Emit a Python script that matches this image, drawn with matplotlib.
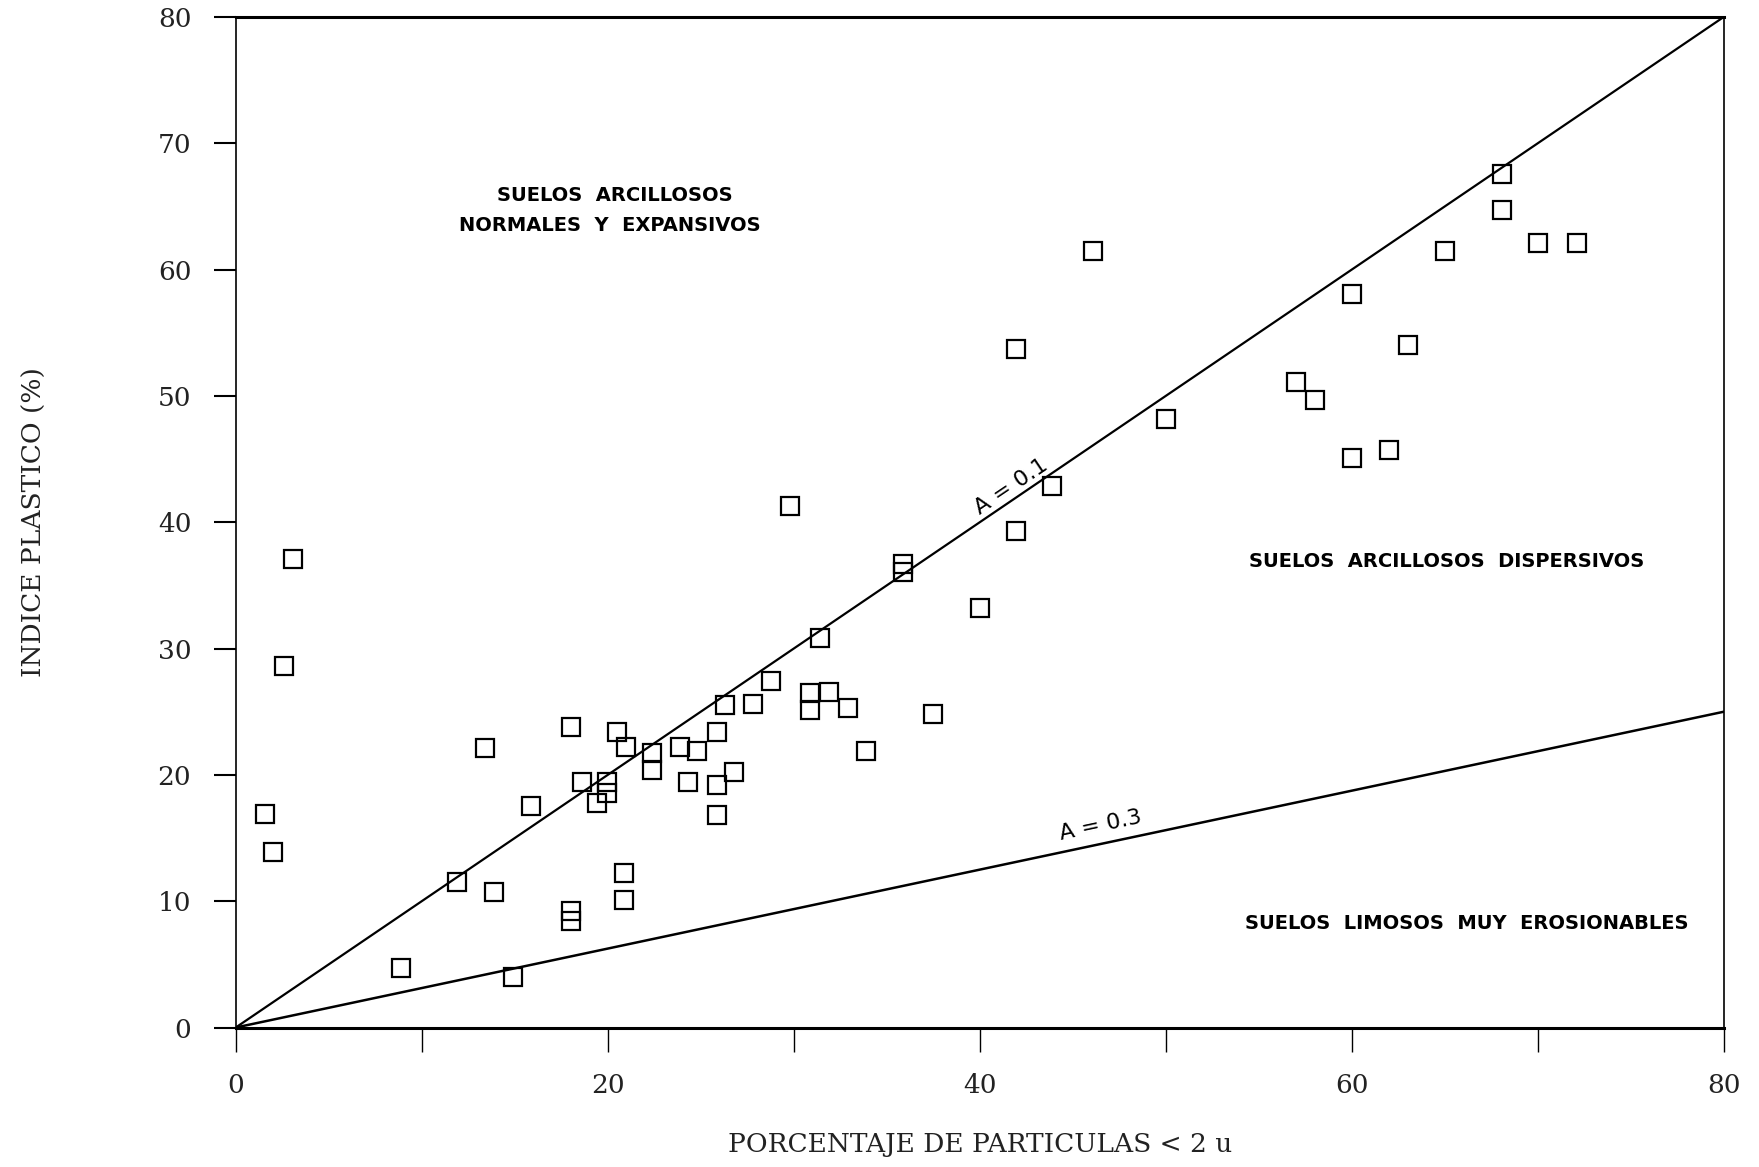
import numpy as np
import matplotlib.pyplot as plt

# data: % particles < 2u vs plasticity index
pct_arcilla = [1.6, 2.0, 2.6, 3.1, 8.9, 11.9, 13.4, 13.9, 14.9, 15.9,
               18.0, 18.0, 18.0, 18.6, 19.4, 19.95, 19.95, 20.5, 21.0, 20.9,
               20.9, 22.4, 22.4, 23.9, 24.3, 24.8, 25.9, 25.9, 25.9, 26.3,
               26.8, 27.8, 28.8, 29.8, 30.9, 30.9, 31.4, 31.9, 32.9, 33.9,
               35.9, 35.9, 37.5, 40.0, 41.95, 41.95, 43.9, 46.1, 50.0, 57.0,
               58.0, 60.0, 60.0, 62.0, 63.0, 65.0, 68.1, 68.1, 70.0, 72.1]
ind_plastico = [16.9, 13.9, 28.6, 37.1, 4.7, 11.5, 22.1, 10.7, 4.0, 17.5,
                23.8, 9.2, 8.4, 19.4, 17.8, 19.4, 18.6, 23.4, 22.2, 12.2,
                10.1, 21.7, 20.4, 22.2, 19.4, 21.9, 23.4, 19.2, 16.8, 25.5,
                20.2, 25.6, 27.4, 41.3, 26.5, 25.1, 30.8, 26.6, 25.3, 21.9,
                36.7, 36.1, 24.8, 33.2, 53.7, 39.3, 42.9, 61.5, 48.2, 51.1,
                49.7, 58.1, 45.1, 45.7, 54.0, 61.5, 67.6, 64.7, 62.1, 62.1]

# boundary lines
linea_x = [0, 80]
linea_a01 = [0, 80]
linea_a03 = [0, 25]

fig = plt.figure(figsize=(17.59, 11.67), dpi=100)
ax = fig.add_axes([0.134, 0.1195, 0.846, 0.866])

ax.plot(linea_x, linea_a01, color='black', lw=1.6)
ax.plot(linea_x, linea_a03, color='black', lw=1.8)
ax.plot(pct_arcilla, ind_plastico, 's', ms=13, mfc='none', mec='black', mew=1.6,
        linestyle='none', clip_on=False)

ax.set_xlim(0, 80)
ax.set_ylim(0, 80)
ax.set_xticks(np.arange(0, 81, 10))
ax.set_xticklabels(['0', '', '20', '', '40', '', '60', '', '80'])
ax.set_yticks(np.arange(0, 81, 10))

serif = 'DejaVu Serif'
ax.tick_params(axis='x', direction='out', length=17, width=1, pad=16, labelsize=19)
ax.tick_params(axis='y', direction='out', length=16, width=1.5, pad=16, labelsize=19)
for lab in ax.get_xticklabels() + ax.get_yticklabels():
    lab.set_family(serif)
    lab.set_color('#222222')

for s in ['left', 'right']:
    ax.spines[s].set_linestyle((0, (1, 1)))
    ax.spines[s].set_linewidth(1.2)
for s in ['top', 'bottom']:
    ax.spines[s].set_linewidth(2.2)

# region labels
kw = dict(fontsize=14, family='DejaVu Sans', fontweight='bold', ha='center', va='center')
ax.text(20.4, 65.9, 'SUELOS  ARCILLOSOS', **kw)
ax.text(20.1, 63.5, 'NORMALES  Y  EXPANSIVOS', **kw)
ax.text(65.1, 36.9, 'SUELOS  ARCILLOSOS  DISPERSIVOS', **kw)
ax.text(66.2, 8.2, 'SUELOS  LIMOSOS  MUY  EROSIONABLES', **kw)

ax.text(41.7, 42.8, 'A = 0.1', rotation=34, rotation_mode='anchor',
        fontsize=16, ha='center', va='center')
ax.text(46.5, 16.0, 'A = 0.3', rotation=12, rotation_mode='anchor',
        fontsize=16, ha='center', va='center')

ax.set_xlabel('PORCENTAJE DE PARTICULAS < 2 u', family=serif, fontsize=19,
              labelpad=24, color='#222222')
ax.set_ylabel('INDICE PLASTICO (%)', family=serif, fontsize=19,
              labelpad=80, color='#222222')

fig.savefig('out.png', dpi=100, facecolor='white')
